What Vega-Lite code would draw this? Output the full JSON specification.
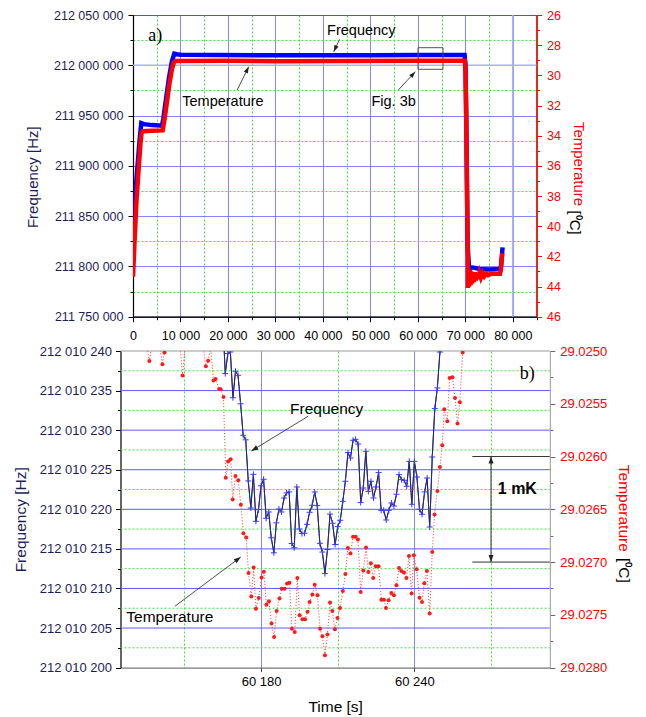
{
"$schema": "https://vega.github.io/schema/vega-lite/v6.json",
"padding": {"left": 13, "top": 8, "right": 5, "bottom": 2},
"spacing": 2,
"config": {
  "view": {"stroke": null},
  "font": "Liberation Sans",
  "axis": {"labelFont": "Liberation Sans", "titleFont": "Liberation Sans", "titleFontWeight": "normal", "labelFontWeight": "normal", "labelOverlap": false}
},
"datasets": {
  "topF": [
    {"t":0,"f":211835000},{"t":400,"f":211866000},{"t":900,"f":211897000},{"t":1400,"f":211926000},{"t":1750,"f":211942500},
    {"t":2300,"f":211941500},{"t":4000,"f":211940500},{"t":6100,"f":211940000},{"t":6400,"f":211947000},{"t":7000,"f":211968000},
    {"t":7600,"f":211988000},{"t":8200,"f":212004000},{"t":8700,"f":212011500},{"t":9200,"f":212011000},{"t":10000,"f":212010400},
    {"t":30000,"f":212010000},{"t":50000,"f":212010100},{"t":60000,"f":212010200},{"t":69850,"f":212010300},{"t":70050,"f":212000000},
    {"t":70200,"f":211950000},{"t":70350,"f":211880000},{"t":70500,"f":211820000},{"t":70800,"f":211798500},{"t":71500,"f":211799000},
    {"t":73000,"f":211797500},{"t":75000,"f":211797000},{"t":77300,"f":211797500},{"t":77550,"f":211801000},{"t":77700,"f":211810000},
    {"t":77850,"f":211819000}
  ],
  "topT": [
    {"t":0,"T":43.35},{"t":300,"T":41.2},{"t":740,"T":38.27},{"t":1220,"T":36.06},{"t":1600,"T":34.4},{"t":1800,"T":33.8},
    {"t":2100,"T":33.7},{"t":4000,"T":33.68},{"t":6250,"T":33.65},{"t":6700,"T":32.8},{"t":7200,"T":31.64},{"t":7700,"T":30.5},
    {"t":8200,"T":29.6},{"t":8600,"T":29.15},{"t":9000,"T":29.05},{"t":20000,"T":29.04},{"t":30000,"T":29.06},{"t":45000,"T":29.05},
    {"t":60000,"T":29.04},{"t":69900,"T":29.03},{"t":70050,"T":29.8},{"t":70200,"T":33},{"t":70350,"T":37},{"t":70500,"T":41.5},
    {"t":70550,"T":44.1},{"t":70650,"T":42.8},{"t":70800,"T":44.0},{"t":70950,"T":42.9},{"t":71100,"T":43.9},{"t":71250,"T":43.0},
    {"t":71400,"T":43.8},{"t":71600,"T":43.05},{"t":71800,"T":43.7},{"t":72000,"T":43.05},{"t":72200,"T":43.6},{"t":72450,"T":43.1},
    {"t":72700,"T":43.5},{"t":73000,"T":43.1},{"t":73300,"T":43.4},{"t":73650,"T":43.12},{"t":74000,"T":43.32},{"t":74400,"T":43.15},
    {"t":74800,"T":43.25},{"t":75500,"T":43.15},{"t":77300,"T":43.15},{"t":77500,"T":42.9},{"t":77650,"T":42.2},{"t":77800,"T":41.8}
  ],
  "topLightH": [{"f":212000000}],
  "topLightV": [{"t":80000}],
  "topBox": [{"t":60042,"t2":65305,"f":211996003,"f2":212017483}],
  "topArr": [
    {"t":43537,"f":212025846,"t2":42274,"f2":212013520,"angle":205.8},
    {"t":21937,"f":211975420,"t2":24379,"f2":211998590,"angle":26.5},
    {"t":55895,"f":211975420,"t2":59474,"f2":211993617,"angle":42.9}
  ],
  "topTxt": [
    {"t":48105,"f":212034090,"label":"Frequency"},
    {"t":18947,"f":211963984,"label":"Temperature"},
    {"t":54905,"f":211963984,"label":"Fig. 3b"}
  ],
  "topLbl": [{"t":4674,"f":212029118,"label":"a)"}],
  "topUnit": [{"t":93158,"T":39.76,"label":"[⁰C]"}],
  "botF": [
    {"t":60165,"f":212010244},{"t":60166,"f":212010237.14},{"t":60167,"f":212010239.67},{"t":60168,"f":212010239.87},
    {"t":60169,"f":212010234.09},{"t":60170,"f":212010237.44},{"t":60171,"f":212010236.93},{"t":60172,"f":212010233.33},
    {"t":60173,"f":212010229.35},{"t":60174,"f":212010228.78},{"t":60175,"f":212010223.58},{"t":60176,"f":212010220.16},
    {"t":60177,"f":212010224.42},{"t":60178,"f":212010218.48},{"t":60179,"f":212010219.96},{"t":60180,"f":212010222.97},
    {"t":60181,"f":212010223.79},{"t":60182,"f":212010218.86},{"t":60183,"f":212010219.66},{"t":60184,"f":212010216.4},
    {"t":60185,"f":212010214.5},{"t":60186,"f":212010218.29},{"t":60187,"f":212010220.03},{"t":60188,"f":212010219.66},
    {"t":60189,"f":212010221.43},{"t":60190,"f":212010222.08},{"t":60191,"f":212010222.19},{"t":60192,"f":212010215.68},
    {"t":60193,"f":212010215.14},{"t":60194,"f":212010222.82},{"t":60195,"f":212010217.51},{"t":60196,"f":212010216.93},
    {"t":60197,"f":212010216.97},{"t":60198,"f":212010218.1},{"t":60199,"f":212010219.62},{"t":60200,"f":212010220.5},
    {"t":60201,"f":212010222.19},{"t":60202,"f":212010220.47},{"t":60203,"f":212010215.7},{"t":60204,"f":212010214.6},
    {"t":60205,"f":212010211.88},{"t":60206,"f":212010214.92},{"t":60207,"f":212010219.39},{"t":60208,"f":212010218.23},
    {"t":60209,"f":212010215.55},{"t":60210,"f":212010217.81},{"t":60211,"f":212010218.61},{"t":60212,"f":212010221.01},
    {"t":60213,"f":212010223.54},{"t":60214,"f":212010227.16},{"t":60215,"f":212010226.48},{"t":60216,"f":212010228.72},
    {"t":60217,"f":212010228.84},{"t":60218,"f":212010228.25},{"t":60219,"f":212010220.85},{"t":60220,"f":212010222.69},
    {"t":60221,"f":212010227.33},{"t":60222,"f":212010222.27},{"t":60223,"f":212010223.54},{"t":60224,"f":212010221.43},
    {"t":60225,"f":212010222.82},{"t":60226,"f":212010224.64},{"t":60227,"f":212010219.87},{"t":60228,"f":212010219.87},
    {"t":60229,"f":212010218.65},{"t":60230,"f":212010219.87},{"t":60231,"f":212010220.8},{"t":60232,"f":212010220.42},
    {"t":60233,"f":212010221.9},{"t":60234,"f":212010224.38},{"t":60235,"f":212010223.75},{"t":60236,"f":212010223.66},
    {"t":60237,"f":212010222.91},{"t":60238,"f":212010226.06},{"t":60239,"f":212010220.63},{"t":60240,"f":212010226.06},
    {"t":60241,"f":212010224.08},{"t":60242,"f":212010220},{"t":60243,"f":212010219.37},{"t":60244,"f":212010222.19},
    {"t":60245,"f":212010223.95},{"t":60246,"f":212010217.76},{"t":60247,"f":212010226.61},{"t":60248,"f":212010232.72},
    {"t":60249,"f":212010235.33},{"t":60250,"f":212010239.87},{"t":60251,"f":212010245}
  ],
  "botT": [
    {"t":60126,"T":29.0248},{"t":60128,"T":29.0249},{"t":60130,"T":29.02475},{"t":60132,"T":29.02485},{"t":60134,"T":29.0248},
    {"t":60135,"T":29.02492},{"t":60136.3,"T":29.025095},{"t":60137.5,"T":29.0249},{"t":60139,"T":29.0248},{"t":60140.3,"T":29.02495},
    {"t":60141.4,"T":29.025126},{"t":60142.2,"T":29.025015},{"t":60143.5,"T":29.02485},{"t":60145,"T":29.02475},{"t":60147,"T":29.0248},
    {"t":60148.3,"T":29.02495},{"t":60149.3,"T":29.025233},{"t":60150.3,"T":29.02495},{"t":60152,"T":29.02475},{"t":60154,"T":29.0247},
    {"t":60156,"T":29.0248},{"t":60157.3,"T":29.02495},{"t":60158.4,"T":29.025145},{"t":60159.3,"T":29.025093},{"t":60160.3,"T":29.02497},
    {"t":60161.4,"T":29.02528},{"t":60162.2,"T":29.025265},{"t":60163.6,"T":29.02536},{"t":60164.2,"T":29.025363},{"t":60165.3,"T":29.025436},
    {"t":60166.2,"T":29.026202},{"t":60167.1,"T":29.026048},{"t":60168.1,"T":29.026026},{"t":60168.9,"T":29.026408},{"t":60170.0,"T":29.026185},
    {"t":60171.1,"T":29.026225},{"t":60172.1,"T":29.026456},{"t":60173.1,"T":29.026727},{"t":60174.2,"T":29.026768},{"t":60175.1,"T":29.027104},
    {"t":60176.2,"T":29.027327},{"t":60177.1,"T":29.027052},{"t":60178.0,"T":29.027443},{"t":60179.1,"T":29.027341},{"t":60180.2,"T":29.027147},
    {"t":60181.1,"T":29.027092},{"t":60182.1,"T":29.027405},{"t":60183.1,"T":29.027372},{"t":60184.1,"T":29.027583},{"t":60185.1,"T":29.02771},
    {"t":60186.1,"T":29.027464},{"t":60187.2,"T":29.027346},{"t":60188.1,"T":29.027252},{"t":60189.2,"T":29.027252},{"t":60190.2,"T":29.027204},
    {"t":60191.1,"T":29.027195},{"t":60192.1,"T":29.027631},{"t":60193.2,"T":29.027663},{"t":60194.2,"T":29.027151},{"t":60195.1,"T":29.027505},
    {"t":60196.2,"T":29.027542},{"t":60197.2,"T":29.027542},{"t":60198.2,"T":29.027471},{"t":60199.0,"T":29.027378},{"t":60200.1,"T":29.027308},
    {"t":60201.0,"T":29.027214},{"t":60202.1,"T":29.027315},{"t":60203.1,"T":29.027631},{"t":60204.0,"T":29.027703},{"t":60205.0,"T":29.027884},
    {"t":60206.0,"T":29.027687},{"t":60207.0,"T":29.027384},{"t":60207.9,"T":29.027464},{"t":60208.9,"T":29.027637},{"t":60209.9,"T":29.02753},
    {"t":60210.9,"T":29.027435},{"t":60212.0,"T":29.027274},{"t":60213.0,"T":29.027113},{"t":60214.0,"T":29.026867},{"t":60215.0,"T":29.02692},
    {"t":60216.0,"T":29.026759},{"t":60217.0,"T":29.026759},{"t":60217.9,"T":29.026787},{"t":60219.0,"T":29.027284},{"t":60220.0,"T":29.027081},
    {"t":60221.1,"T":29.026863},{"t":60222.0,"T":29.027094},{"t":60223.0,"T":29.027012},{"t":60223.9,"T":29.027151},{"t":60224.9,"T":29.02704},
    {"t":60226.0,"T":29.02704},{"t":60227.1,"T":29.027356},{"t":60228.1,"T":29.027356},{"t":60228.9,"T":29.027435},{"t":60229.9,"T":29.027362},
    {"t":60231.0,"T":29.027293},{"t":60232.0,"T":29.027315},{"t":60233.0,"T":29.02722},{"t":60234.0,"T":29.027056},{"t":60234.9,"T":29.027085},
    {"t":60235.9,"T":29.0271},{"t":60236.9,"T":29.027151},{"t":60237.9,"T":29.026943},{"t":60238.9,"T":29.027299},{"t":60239.8,"T":29.026936},
    {"t":60240.9,"T":29.027069},{"t":60242.0,"T":29.027337},{"t":60243.0,"T":29.027378},{"t":60243.9,"T":29.027201},{"t":60244.9,"T":29.027085},
    {"t":60246.0,"T":29.027488},{"t":60247.0,"T":29.026905},{"t":60247.9,"T":29.02655},{"t":60249.0,"T":29.026327},{"t":60250.0,"T":29.026099},
    {"t":60250.9,"T":29.025894},{"t":60251.7,"T":29.025552},{"t":60252.9,"T":29.025666},{"t":60253.8,"T":29.025256},{"t":60254.9,"T":29.025249},
    {"t":60255.9,"T":29.025445},{"t":60256.9,"T":29.025688},{"t":60257.8,"T":29.025486},{"t":60258.9,"T":29.025015},{"t":60260,"T":29.0248}
  ],
  "bGridMaj": [{"g":212010205},{"g":212010210},{"g":212010215},{"g":212010220},{"g":212010225},{"g":212010230},{"g":212010235}],
  "bGridMin": [{"g":212010202.5},{"g":212010207.5},{"g":212010212.5},{"g":212010217.5},{"g":212010222.5},{"g":212010227.5},{"g":212010232.5},{"g":212010237.5}],
  "bBorder": [{"g":212010240}],
  "botArr": [
    {"t":60198.4,"f":212010231.75,"t2":60176.2,"f2":212010227.37,"angle":238.5},
    {"t":60146.25,"f":212010207.74,"t2":60172.06,"f2":212010213.97,"angle":53.2}
  ],
  "botTxt": [
    {"t":60205.7,"f":212010232.72,"label":"Frequency"},
    {"t":60144.3,"f":212010206.42,"label":"Temperature"}
  ],
  "botLbl": [{"t":60284.2,"f":212010237.14,"label":"b)"}],
  "botBold": [{"t":60280.3,"f":212010222.62,"label":"1 mK"}],
  "botUnit": [{"t":60322.1,"T":29.027078,"label":"[⁰C]"}],
  "mkRules": [
    {"t":60262.7,"t2":60293,"T":29.026,"T2":29.026},
    {"t":60262.7,"t2":60293,"T":29.027,"T2":29.027},
    {"t":60270,"t2":60270,"T":29.026,"T2":29.027}
  ],
  "mkHeads": [{"t":60270,"T":29.026,"angle":0},{"t":60270,"T":29.027,"angle":180}]
},
"vconcat": [
  {
    "width": 403.5, "height": 301.7,
    "view": {"stroke": "#333"},
    "resolve": {"scale": {"y": "independent"}},
    "layer": [
      {"layer": [
        {"data": {"name": "topLightH"},
         "mark": {"type": "rule", "color": "#aab2ff", "strokeWidth": 1.6},
         "encoding": {
           "y": {"field": "f", "type": "quantitative", "scale": {"domain": [211750000, 212050000], "nice": false, "zero": false}}
         }},
        {"data": {"name": "topLightV"},
         "mark": {"type": "rule", "color": "#aab2ff", "strokeWidth": 1.6},
         "encoding": {
           "x": {"field": "t", "type": "quantitative", "scale": {"domain": [0, 85000], "nice": false, "zero": false}}
         }},
        {"data": {"name": "topF"},
         "mark": {"type": "line", "color": "#0000ff", "strokeWidth": 4.5, "clip": true},
         "encoding": {
           "x": {"field": "t", "type": "quantitative", "scale": {"domain": [0, 85000], "nice": false, "zero": false},
             "axis": {"orient": "bottom", "tickCount": 1000,
               "values": [0,5000,10000,15000,20000,25000,30000,35000,40000,45000,50000,55000,60000,65000,70000,75000,80000,85000],
               "labelExpr": "datum.value % 10000 === 0 ? replace(format(datum.value, ','), regexp(',', 'g'), ' ') : ''",
               "labelFlush": false, "labelOverlap": false, "labelFontSize": 12.5, "labelColor": "#000", "labelPadding": 8,
               "title": null, "grid": true,
               "gridColor": {"condition": {"test": "datum.value % 10000 === 0", "value": "#5c5cff"}, "value": "#44dd44"},
               "gridDash": {"condition": {"test": "datum.value % 10000 === 0", "value": [1, 0]}, "value": [2, 2]},
               "tickSize": {"condition": {"test": "datum.value % 10000 === 0", "value": 5}, "value": 3},
               "tickColor": "#000", "domainColor": "#000", "domainWidth": 1.2}},
           "y": {"field": "f", "type": "quantitative", "scale": {"domain": [211750000, 212050000], "nice": false, "zero": false},
             "axis": {"orient": "left", "tickCount": 1000,
               "values": [211750000,211775000,211800000,211825000,211850000,211875000,211900000,211925000,211950000,211975000,212000000,212025000,212050000],
               "labelExpr": "datum.value % 50000 === 0 ? replace(format(datum.value, ','), regexp(',', 'g'), ' ') : ''",
               "labelOverlap": false, "labelFontSize": 12.5, "labelColor": "#1e1e5a", "labelPadding": 5,
               "title": "Frequency [Hz]", "titleFontSize": 15, "titleColor": "#1e1e5a", "titlePadding": 13, "titleY": 161.7,
               "grid": true,
               "gridColor": {"condition": {"test": "datum.value % 50000 === 0", "value": "#5c5cff"}, "value": "#44dd44"},
               "gridDash": {"condition": {"test": "datum.value % 50000 === 0", "value": [1, 0]}, "value": [2, 2]},
               "tickSize": {"condition": {"test": "datum.value % 50000 === 0", "value": 5}, "value": 3},
               "tickColor": "#000", "domainColor": "#000", "domainWidth": 1.2}}
         }},
        {"data": {"name": "topBox"},
         "mark": {"type": "rect", "filled": false, "color": "#555", "strokeWidth": 1},
         "encoding": {
           "x": {"field": "t", "type": "quantitative", "scale": {"domain": [0, 85000], "nice": false, "zero": false}},
           "x2": {"field": "t2"},
           "y": {"field": "f", "type": "quantitative", "scale": {"domain": [211750000, 212050000], "nice": false, "zero": false}},
           "y2": {"field": "f2"}
         }},
        {"data": {"name": "topArr"},
         "mark": {"type": "rule", "color": "#222", "strokeWidth": 0.8},
         "encoding": {
           "x": {"field": "t", "type": "quantitative", "scale": {"domain": [0, 85000], "nice": false, "zero": false}},
           "x2": {"field": "t2"},
           "y": {"field": "f", "type": "quantitative", "scale": {"domain": [211750000, 212050000], "nice": false, "zero": false}},
           "y2": {"field": "f2"}
         }},
        {"data": {"name": "topArr"},
         "mark": {"type": "point", "shape": "M0,0L-0.35,1L0.35,1Z", "filled": true, "color": "#222", "size": 169, "opacity": 1},
         "encoding": {
           "x": {"field": "t2", "type": "quantitative", "scale": {"domain": [0, 85000], "nice": false, "zero": false}},
           "y": {"field": "f2", "type": "quantitative", "scale": {"domain": [211750000, 212050000], "nice": false, "zero": false}},
           "angle": {"field": "angle", "type": "quantitative", "scale": null}
         }},
        {"data": {"name": "topTxt"},
         "mark": {"type": "text", "fontSize": 14.5, "color": "#000", "font": "Liberation Sans"},
         "encoding": {
           "x": {"field": "t", "type": "quantitative", "scale": {"domain": [0, 85000], "nice": false, "zero": false}},
           "y": {"field": "f", "type": "quantitative", "scale": {"domain": [211750000, 212050000], "nice": false, "zero": false}},
           "text": {"field": "label"}
         }},
        {"data": {"name": "topLbl"},
         "mark": {"type": "text", "fontSize": 18, "color": "#000", "font": "Liberation Serif"},
         "encoding": {
           "x": {"field": "t", "type": "quantitative", "scale": {"domain": [0, 85000], "nice": false, "zero": false}},
           "y": {"field": "f", "type": "quantitative", "scale": {"domain": [211750000, 212050000], "nice": false, "zero": false}},
           "text": {"field": "label"}
         }}
      ]},
      {"layer": [
        {"data": {"name": "topT"},
         "mark": {"type": "line", "color": "#ff0000", "strokeWidth": 4.5, "clip": true},
         "encoding": {
           "x": {"field": "t", "type": "quantitative", "scale": {"domain": [0, 85000], "nice": false, "zero": false}},
           "y": {"field": "T", "type": "quantitative", "scale": {"domain": [26, 46], "reverse": true, "nice": false, "zero": false},
             "axis": {"orient": "right", "tickCount": 1000,
               "values": [26,27,28,29,30,31,32,33,34,35,36,37,38,39,40,41,42,43,44,45,46],
               "labelExpr": "datum.value % 2 === 0 ? '' + datum.value : ''",
               "labelOverlap": false, "labelFontSize": 12.5, "labelColor": "#ff0000", "labelPadding": 5,
               "title": "Temperature", "titleFontSize": 15, "titleColor": "#ff0000", "titlePadding": 10, "titleY": 148.5,
               "grid": false,
               "tickSize": {"condition": {"test": "datum.value % 2 === 0", "value": 5}, "value": 3},
               "tickColor": "#ff0000", "domainColor": "#ff0000", "domainWidth": 1.5}}
         }},
        {"data": {"name": "topUnit"},
         "mark": {"type": "text", "fontSize": 15, "color": "#000", "font": "Liberation Sans", "angle": 90},
         "encoding": {
           "x": {"field": "t", "type": "quantitative", "scale": {"domain": [0, 85000], "nice": false, "zero": false}},
           "y": {"field": "T", "type": "quantitative", "scale": {"domain": [26, 46], "reverse": true, "nice": false, "zero": false}},
           "text": {"field": "label"}
         }}
      ]}
    ]
  },
  {
    "width": 416.8, "height": 316.6,
    "resolve": {"scale": {"y": "independent"}},
    "layer": [
      {"layer": [
        {"data": {"name": "botF"},
         "mark": {"type": "line", "color": "#27277a", "strokeWidth": 1, "clip": true},
         "encoding": {
           "x": {"field": "t", "type": "quantitative", "scale": {"domain": [60125, 60293], "range": [-12.5, 416.8], "nice": false, "zero": false},
             "axis": {"orient": "bottom", "tickCount": 1000,
               "values": [60150, 60180, 60210, 60240, 60270],
               "labelExpr": "datum.value % 60 === 0 ? replace(format(datum.value, ','), regexp(',', 'g'), ' ') : ''",
               "labelFlush": false, "labelOverlap": false, "labelFontSize": 13, "labelColor": "#000", "labelPadding": 4,
               "title": "Time [s]", "titleFontSize": 15.5, "titleColor": "#000", "titlePadding": 11,
               "grid": true,
               "gridColor": {"condition": {"test": "datum.value % 60 === 0", "value": "#5c5cff"}, "value": "#44dd44"},
               "gridDash": {"condition": {"test": "datum.value % 60 === 0", "value": [1, 0]}, "value": [2, 2]},
               "tickSize": {"condition": {"test": "datum.value % 60 === 0", "value": 4}, "value": 0},
               "tickColor": "#444", "domainColor": "#555", "domainWidth": 1}},
           "y": {"field": "f", "type": "quantitative", "scale": {"domain": [212010200, 212010240], "nice": false, "zero": false},
             "axis": {"orient": "left", "offset": 12.5, "tickCount": 1000,
               "values": [212010200,212010202.5,212010205,212010207.5,212010210,212010212.5,212010215,212010217.5,212010220,212010222.5,212010225,212010227.5,212010230,212010232.5,212010235,212010237.5,212010240],
               "labelExpr": "datum.value % 5 === 0 ? replace(format(datum.value, ','), regexp(',', 'g'), ' ') : ''",
               "labelOverlap": false, "labelFontSize": 13, "labelColor": "#1e1e5a", "labelPadding": 4,
               "title": "Frequency [Hz]", "titleFontSize": 15.5, "titleColor": "#1e1e5a", "titlePadding": 11, "titleY": 168.3,
               "grid": false,
               "tickSize": {"condition": {"test": "datum.value % 5 === 0", "value": 5}, "value": 3},
               "tickColor": "#000", "domainColor": "#000", "domainWidth": 1.2}}
         }},
        {"data": {"name": "bGridMin"},
         "mark": {"type": "rule", "color": "#44dd44", "strokeDash": [2, 2], "strokeWidth": 1},
         "encoding": {
           "x": {"datum": 60125, "type": "quantitative", "scale": {"domain": [60125, 60293], "range": [-12.5, 416.8], "nice": false, "zero": false}},
           "x2": {"datum": 60293},
           "y": {"field": "g", "type": "quantitative", "scale": {"domain": [212010200, 212010240], "nice": false, "zero": false}}
         }},
        {"data": {"name": "bGridMaj"},
         "mark": {"type": "rule", "color": "#5c5cff", "strokeWidth": 1},
         "encoding": {
           "x": {"datum": 60125, "type": "quantitative", "scale": {"domain": [60125, 60293], "range": [-12.5, 416.8], "nice": false, "zero": false}},
           "x2": {"datum": 60293},
           "y": {"field": "g", "type": "quantitative", "scale": {"domain": [212010200, 212010240], "nice": false, "zero": false}}
         }},
        {"data": {"name": "bBorder"},
         "mark": {"type": "rule", "color": "#999", "strokeWidth": 1},
         "encoding": {
           "x": {"datum": 60125, "type": "quantitative", "scale": {"domain": [60125, 60293], "range": [-12.5, 416.8], "nice": false, "zero": false}},
           "x2": {"datum": 60293},
           "y": {"field": "g", "type": "quantitative", "scale": {"domain": [212010200, 212010240], "nice": false, "zero": false}}
         }},
        {"data": {"name": "botF"},
         "mark": {"type": "line", "color": "#27277a", "strokeWidth": 1, "clip": true},
         "encoding": {
           "x": {"field": "t", "type": "quantitative", "scale": {"domain": [60125, 60293], "range": [-12.5, 416.8], "nice": false, "zero": false}},
           "y": {"field": "f", "type": "quantitative", "scale": {"domain": [212010200, 212010240], "nice": false, "zero": false}}
         }},
        {"data": {"name": "botF"},
         "mark": {"type": "point", "shape": "M-1,0H1M0,-1V1", "filled": false, "color": "#3a3aff", "strokeWidth": 1, "size": 36, "opacity": 1, "clip": true},
         "encoding": {
           "x": {"field": "t", "type": "quantitative", "scale": {"domain": [60125, 60293], "range": [-12.5, 416.8], "nice": false, "zero": false}},
           "y": {"field": "f", "type": "quantitative", "scale": {"domain": [212010200, 212010240], "nice": false, "zero": false}}
         }},
        {"data": {"name": "botArr"},
         "mark": {"type": "rule", "color": "#222", "strokeWidth": 0.8},
         "encoding": {
           "x": {"field": "t", "type": "quantitative", "scale": {"domain": [60125, 60293], "range": [-12.5, 416.8], "nice": false, "zero": false}},
           "x2": {"field": "t2"},
           "y": {"field": "f", "type": "quantitative", "scale": {"domain": [212010200, 212010240], "nice": false, "zero": false}},
           "y2": {"field": "f2"}
         }},
        {"data": {"name": "botArr"},
         "mark": {"type": "point", "shape": "M0,0L-0.35,1L0.35,1Z", "filled": true, "color": "#222", "size": 196, "opacity": 1},
         "encoding": {
           "x": {"field": "t2", "type": "quantitative", "scale": {"domain": [60125, 60293], "range": [-12.5, 416.8], "nice": false, "zero": false}},
           "y": {"field": "f2", "type": "quantitative", "scale": {"domain": [212010200, 212010240], "nice": false, "zero": false}},
           "angle": {"field": "angle", "type": "quantitative", "scale": null}
         }},
        {"data": {"name": "botTxt"},
         "mark": {"type": "text", "fontSize": 15.5, "color": "#000", "font": "Liberation Sans"},
         "encoding": {
           "x": {"field": "t", "type": "quantitative", "scale": {"domain": [60125, 60293], "range": [-12.5, 416.8], "nice": false, "zero": false}},
           "y": {"field": "f", "type": "quantitative", "scale": {"domain": [212010200, 212010240], "nice": false, "zero": false}},
           "text": {"field": "label"}
         }},
        {"data": {"name": "botLbl"},
         "mark": {"type": "text", "fontSize": 18, "color": "#000", "font": "Liberation Serif"},
         "encoding": {
           "x": {"field": "t", "type": "quantitative", "scale": {"domain": [60125, 60293], "range": [-12.5, 416.8], "nice": false, "zero": false}},
           "y": {"field": "f", "type": "quantitative", "scale": {"domain": [212010200, 212010240], "nice": false, "zero": false}},
           "text": {"field": "label"}
         }},
        {"data": {"name": "botBold"},
         "mark": {"type": "text", "fontSize": 16, "fontWeight": "bold", "color": "#000", "font": "Liberation Sans"},
         "encoding": {
           "x": {"field": "t", "type": "quantitative", "scale": {"domain": [60125, 60293], "range": [-12.5, 416.8], "nice": false, "zero": false}},
           "y": {"field": "f", "type": "quantitative", "scale": {"domain": [212010200, 212010240], "nice": false, "zero": false}},
           "text": {"field": "label"}
         }}
      ]},
      {"layer": [
        {"data": {"name": "botT"},
         "mark": {"type": "line", "color": "#ff5050", "strokeWidth": 1, "strokeDash": [1.2, 1.8], "clip": true},
         "encoding": {
           "x": {"field": "t", "type": "quantitative", "scale": {"domain": [60125, 60293], "range": [-12.5, 416.8], "nice": false, "zero": false}},
           "y": {"field": "T", "type": "quantitative", "scale": {"domain": [29.025, 29.028], "reverse": true, "nice": false, "zero": false},
             "axis": {"orient": "right", "tickCount": 1000,
               "values": [29.025,29.02525,29.0255,29.02575,29.026,29.02625,29.0265,29.02675,29.027,29.02725,29.0275,29.02775,29.028],
               "labelExpr": "round(datum.value / 0.00025) % 2 === 0 ? format(datum.value, '.4f') : ''",
               "labelOverlap": false, "labelFontSize": 13, "labelColor": "#ff0000", "labelPadding": 5,
               "title": "Temperature", "titleFontSize": 15.5, "titleColor": "#ff0000", "titlePadding": 9, "titleY": 156.8,
               "grid": false,
               "tickSize": {"condition": {"test": "round(datum.value / 0.00025) % 2 === 0", "value": 5}, "value": 3},
               "tickColor": "#666", "domainColor": "#999", "domainWidth": 1}}
         }},
        {"data": {"name": "botT"},
         "mark": {"type": "point", "shape": "circle", "filled": true, "color": "#ff1a1a", "size": 16, "opacity": 1, "clip": true},
         "encoding": {
           "x": {"field": "t", "type": "quantitative", "scale": {"domain": [60125, 60293], "range": [-12.5, 416.8], "nice": false, "zero": false}},
           "y": {"field": "T", "type": "quantitative", "scale": {"domain": [29.025, 29.028], "reverse": true, "nice": false, "zero": false}}
         }},
        {"data": {"name": "mkRules"},
         "mark": {"type": "rule", "color": "#333", "strokeWidth": 1},
         "encoding": {
           "x": {"field": "t", "type": "quantitative", "scale": {"domain": [60125, 60293], "range": [-12.5, 416.8], "nice": false, "zero": false}},
           "x2": {"field": "t2"},
           "y": {"field": "T", "type": "quantitative", "scale": {"domain": [29.025, 29.028], "reverse": true, "nice": false, "zero": false}},
           "y2": {"field": "T2"}
         }},
        {"data": {"name": "mkHeads"},
         "mark": {"type": "point", "shape": "M0,0L-0.35,1L0.35,1Z", "filled": true, "color": "#222", "size": 196, "opacity": 1},
         "encoding": {
           "x": {"field": "t", "type": "quantitative", "scale": {"domain": [60125, 60293], "range": [-12.5, 416.8], "nice": false, "zero": false}},
           "y": {"field": "T", "type": "quantitative", "scale": {"domain": [29.025, 29.028], "reverse": true, "nice": false, "zero": false}},
           "angle": {"field": "angle", "type": "quantitative", "scale": null}
         }},
        {"data": {"name": "botUnit"},
         "mark": {"type": "text", "fontSize": 15.5, "color": "#000", "font": "Liberation Sans", "angle": 90},
         "encoding": {
           "x": {"field": "t", "type": "quantitative", "scale": {"domain": [60125, 60293], "range": [-12.5, 416.8], "nice": false, "zero": false}},
           "y": {"field": "T", "type": "quantitative", "scale": {"domain": [29.025, 29.028], "reverse": true, "nice": false, "zero": false}},
           "text": {"field": "label"}
         }}
      ]}
    ]
  }
]
}
